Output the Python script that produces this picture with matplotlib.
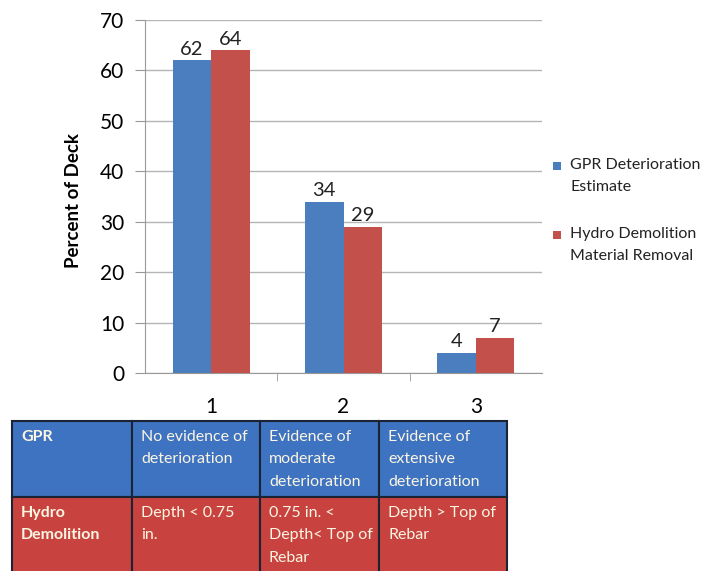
import matplotlib.pyplot as plt
from matplotlib.patches import Rectangle

plt.rcParams['font.family'] = ['Lato', 'DejaVu Sans']

categories = ["1", "2", "3"]
gpr_values = [62, 34, 4]
hydro_values = [64, 29, 7]
series_names = ["GPR Deterioration\nEstimate", "Hydro Demolition\nMaterial Removal"]

table_gpr = ["GPR", "No evidence of\ndeterioration", "Evidence of\nmoderate\ndeterioration",
             "Evidence of\nextensive\ndeterioration"]
table_hydro = ["Hydro\nDemolition", "Depth < 0.75\nin.", "0.75 in. <\nDepth< Top of\nRebar",
               "Depth > Top of\nRebar"]

blue = "#4a7ebf"
red = "#c4504c"
table_blue = "#3e73c2"
table_red = "#c8433f"

W, H = 709, 571
fig = plt.figure(figsize=(W / 100, H / 100), dpi=100)

# chart area (pixel edges converted to figure fraction)
ax = fig.add_axes([145 / W, 1 - 373 / H, (542 - 145) / W, (373 - 20) / H])
x = list(range(len(categories)))
bw = 0.29
b1 = ax.bar([i - bw / 2 for i in x], gpr_values, bw, color=blue, zorder=3)
b2 = ax.bar([i + bw / 2 for i in x], hydro_values, bw, color=red, zorder=3)
for bars, vals in ((b1, gpr_values), (b2, hydro_values)):
    for rect, v in zip(bars, vals):
        ax.text(rect.get_x() + rect.get_width() / 2, v + 0.5, str(v),
                ha="center", va="bottom", fontsize=14.5, color="#222222")

ax.set_xlim(-0.5, 2.5)
ax.set_ylim(0, 70)
ax.set_yticks(range(0, 71, 10))
ax.set_xticks(x)
ax.set_xticklabels(categories)
ax.set_xticks([0.5, 1.5], minor=True)
ax.tick_params(axis="x", which="major", length=0, pad=17, labelsize=15)
ax.tick_params(axis="x", which="minor", length=6, color="#999999")
ax.tick_params(axis="y", length=7, color="#999999", labelsize=15, pad=8)
ax.grid(axis="y", color="#b5b5b5", linewidth=1, zorder=0)
for s in ("top", "right"):
    ax.spines[s].set_visible(False)
ax.spines["left"].set_color("#999999")
ax.spines["bottom"].set_color("#999999")
ax.set_ylabel("Percent of Deck", fontsize=13.5, fontweight="bold")
ax.yaxis.set_label_coords((82 - 145) / (542 - 145), (373 - 201) / 353)

# pixel overlay for legend and description table
tx = fig.add_axes([0, 0, 1, 1])
tx.set_xlim(0, W)
tx.set_ylim(H, 0)
tx.axis("off")

for i, (name, col) in enumerate(zip(series_names, (blue, red))):
    y_top = 158 + i * 69
    tx.add_patch(Rectangle((553, y_top + 4), 8, 8, facecolor=col, edgecolor="none"))
    tx.text(570, y_top, name, ha="left", va="top", fontsize=11.5,
            color="#222222", linespacing=1.75)

col_edges = [12, 132, 260, 379, 507]
row_edges = [421, 497, 575]
for r, (row, fill) in enumerate(((table_gpr, table_blue), (table_hydro, table_red))):
    for c, txt in enumerate(row):
        x0, x1 = col_edges[c], col_edges[c + 1]
        y0, y1 = row_edges[r], row_edges[r + 1]
        tx.add_patch(Rectangle((x0, y0), x1 - x0, y1 - y0, facecolor=fill,
                               edgecolor="#1c2433", linewidth=1.5))
        tx.text(x0 + 9, y0 + 9, txt, ha="left", va="top", fontsize=11.5,
                color="#fbf5e2", fontweight="bold" if c == 0 else "normal",
                linespacing=1.75)

fig.savefig("out.png", dpi=100)
